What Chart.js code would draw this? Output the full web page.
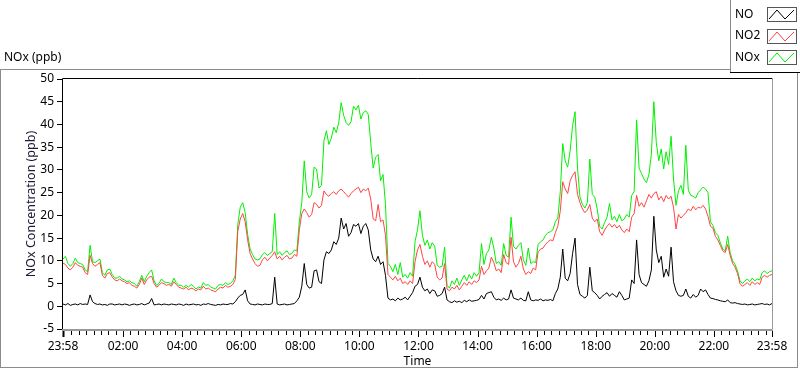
<!DOCTYPE html>
<html>
<head>
<meta charset="utf-8">
<script src="https://cdn.jsdelivr.net/npm/chart.js@4.4.1/dist/chart.umd.min.js"></script>
<style>
html, body { margin: 0; padding: 0; background: #fff; }
</style>
</head>
<body>
<canvas id="chart_line" width="800" height="369"></canvas>
<script>
// samples every 5 minutes starting at 23:58
var startMin = 0
var stepMin = 5

var no = [
	0.5, 0.3, 0.6, 0.2, 0.4, 0.5, 0.3, 0.6, 0.4, 0.5, 0.4, 2.5,
	1.0, 0.6, 0.4, 0.5, 0.3, 0.4, 0.2, 0.5, 0.5, 0.3, 0.4, 0.5,
	0.3, 0.5, 0.4, 0.2, 0.4, 0.5, 0.3, 0.4, 0.6, 0.3, 0.5, 0.7,
	1.7, 0.3, 0.4, 0.5, 0.3, 0.5, 0.4, 0.3, 0.5, 0.4, 0.3, 0.5,
	0.4, 0.2, 0.5, 0.3, 0.4, 0.5, 0.3, 0.4, 0.2, 0.5, 0.4, 0.6,
	0.4, 0.3, 0.2, 0.4, 0.3, 0.5, 0.4, 0.4, 0.6, 0.5, 1.0, 1.8,
	2.4, 2.6, 3.6, 1.2, 0.5, 0.4, 0.3, 0.5, 0.4, 0.3, 0.5, 0.4,
	0.4, 0.6, 6.4, 0.5, 0.3, 0.4, 0.5, 0.3, 0.4, 0.5, 0.6, 1.2,
	2.0, 4.4, 9.4, 4.8, 4.0, 4.2, 7.8, 8.0, 5.4, 5.0, 10.2, 12.0,
	11.6, 12.4, 14.2, 13.6, 15.0, 19.4, 17.0, 18.2, 15.4, 16.2, 18.0, 17.6,
	18.2, 16.0, 17.6, 18.2, 16.8, 12.4, 10.4, 9.8, 11.0, 9.2, 9.8, 6.8,
	1.8, 1.4, 1.6, 1.2, 1.8, 1.4, 1.6, 2.0, 1.4, 2.2, 3.0, 4.4,
	4.8, 6.4, 4.2, 3.4, 3.8, 2.8, 3.6, 3.4, 2.2, 2.4, 2.8, 4.2,
	1.4, 1.0, 0.8, 1.2, 0.9, 1.1, 0.8, 1.3, 1.0, 1.4, 1.1, 1.2,
	1.3, 1.5, 2.4, 1.6, 2.8, 3.0, 3.2, 2.0, 1.4, 1.6, 1.3, 1.8,
	1.4, 1.6, 3.6, 1.8, 1.6, 1.4, 1.8, 1.3, 1.2, 3.2, 1.4, 1.2,
	1.4, 1.3, 1.6, 1.2, 1.4, 1.3, 1.5, 1.2, 2.8, 3.8, 6.4, 12.6,
	6.2, 5.6, 7.2, 11.6, 15.0, 4.8, 2.6, 2.2, 1.8, 2.4, 8.6, 3.4,
	3.0, 2.4, 1.6, 2.2, 2.6, 3.0, 2.2, 2.8, 2.4, 2.0, 3.2, 2.4,
	1.4, 1.6, 1.8, 5.8, 5.0, 14.6, 7.0, 5.2, 4.8, 4.4, 5.6, 8.0,
	19.8, 12.4, 9.6, 11.0, 6.4, 8.2, 6.6, 13.0, 5.4, 3.4, 2.4, 2.2,
	2.4, 3.8, 2.2, 1.8, 2.6, 2.0, 2.4, 3.8, 3.2, 3.6, 2.6, 1.8,
	1.7, 1.5, 1.4, 1.2, 1.1, 1.0, 1.4, 0.8, 0.7, 0.8, 0.6, 0.5,
	0.4, 0.5, 0.3, 0.4, 0.5, 0.3, 0.4, 0.5, 0.6, 0.4, 0.5, 0.3, 0.6
]

var no2 = [
	9.5, 9.2, 8.4, 8.0, 8.6, 9.6, 9.0, 8.8, 8.6, 7.4, 7.0, 11.2,
	9.4, 8.8, 9.2, 9.6, 6.8, 6.2, 7.2, 7.4, 6.4, 5.8, 5.6, 6.0,
	5.6, 5.4, 5.0, 5.2, 4.6, 4.4, 4.0, 4.8, 6.2, 4.8, 5.8, 6.4,
	6.6, 5.0, 4.2, 4.6, 5.2, 5.0, 4.6, 4.8, 4.4, 5.4, 4.8, 4.2,
	4.0, 3.8, 4.2, 3.6, 4.0, 3.8, 3.4, 3.8, 3.6, 4.4, 3.8, 4.0,
	3.6, 3.4, 3.2, 3.8, 4.2, 4.0, 4.6, 4.2, 4.4, 4.8, 5.9, 16.5,
	19.2, 20.4, 18.6, 14.6, 11.6, 10.4, 9.4, 8.8, 9.0, 10.2, 10.8, 10.0,
	10.6, 11.2, 12.0, 10.4, 11.0, 10.2, 10.8, 11.2, 10.4, 10.6, 11.4, 11.0,
	16.8, 20.4, 21.4, 20.6, 19.6, 20.2, 22.8, 22.4, 21.6, 22.2, 25.4, 24.6,
	24.2, 24.8, 25.2, 24.6, 25.4, 25.8, 25.2, 24.6, 24.0, 24.8, 25.4, 25.8,
	26.2, 25.0, 25.8, 25.4, 26.0, 23.6, 19.2, 18.8, 22.4, 18.6, 19.0, 15.6,
	7.0, 6.4, 5.8, 6.6, 5.6, 6.2, 5.0, 5.4, 4.8, 5.6, 5.0, 9.8,
	12.4, 13.6, 11.0, 9.2, 10.0, 8.6, 9.8, 9.2, 6.4, 5.8, 6.2, 9.4,
	3.8, 3.4, 4.2, 3.8, 4.6, 3.6, 4.4, 5.2, 4.6, 5.4, 4.8, 5.6,
	5.2, 5.8, 8.8, 7.0, 7.8, 8.4, 10.8, 9.6, 7.8, 8.2, 7.4, 11.4,
	9.6, 9.2, 15.2, 9.8, 8.6, 9.4, 11.0, 8.2, 7.0, 7.6, 7.2, 8.4,
	8.0, 12.0, 12.6, 12.8, 13.6, 14.2, 14.6, 14.4, 16.2, 17.6, 21.0, 27.4,
	25.8, 24.8, 27.6, 28.8, 29.6, 24.6, 22.8, 21.4, 20.6, 21.2, 22.4, 19.4,
	18.6, 19.2, 16.4, 15.6, 16.8, 17.6, 18.2, 17.4, 18.0, 17.2, 17.8, 16.8,
	16.2, 17.0, 16.4, 19.6, 20.4, 24.4, 22.0, 22.8, 21.8, 23.2, 24.6, 23.8,
	24.8, 25.2, 23.4, 24.2, 23.0, 24.4, 23.6, 24.2, 21.8, 17.0, 20.2, 19.4,
	20.0, 20.6, 21.4, 21.0, 22.0, 21.2, 21.8, 21.6, 22.2, 21.4, 19.8, 17.6,
	17.2, 15.4, 14.6, 13.4, 12.2, 11.8, 13.6, 11.2, 9.4, 8.6, 7.2, 5.0,
	4.4, 4.8, 5.2, 4.6, 5.4, 4.8, 5.2, 4.8, 6.4, 6.8, 6.4, 6.8, 7.0
]

var nox = [
	10.4, 11.0, 9.4, 8.8, 9.4, 10.6, 9.6, 9.4, 9.2, 8.0, 7.6, 13.4,
	9.8, 9.6, 10.0, 10.4, 7.4, 6.8, 8.0, 8.2, 7.0, 6.2, 6.2, 6.6,
	6.0, 5.8, 5.4, 5.6, 5.2, 5.0, 4.4, 5.4, 6.8, 5.4, 6.6, 7.4,
	8.0, 5.6, 4.6, 5.0, 6.0, 5.4, 5.2, 5.2, 4.8, 6.2, 5.2, 4.6,
	4.6, 4.2, 4.6, 4.2, 4.8, 4.4, 3.8, 4.2, 4.0, 5.2, 4.6, 4.8,
	4.2, 4.0, 3.8, 4.6, 4.8, 4.6, 5.2, 4.8, 5.0, 5.6, 6.8, 18.0,
	21.8, 22.8, 20.6, 15.8, 12.6, 11.4, 10.4, 10.2, 10.4, 11.4, 11.8, 11.2,
	11.6, 12.0, 20.4, 11.4, 12.0, 11.2, 11.8, 12.2, 11.4, 11.6, 12.4, 12.2,
	18.6, 22.8, 32.0, 25.2, 23.8, 24.6, 30.6, 30.2, 26.0, 26.6, 36.4, 38.6,
	35.6, 37.0, 39.4, 38.2, 40.4, 44.8, 42.0, 40.4, 39.8, 40.6, 44.0, 43.2,
	44.2, 41.2, 42.6, 43.0, 42.2, 36.0, 30.4, 32.8, 33.4, 27.6, 29.0, 22.4,
	9.4, 8.8, 7.6, 9.2, 7.0, 9.6, 6.4, 7.0, 6.2, 7.4, 6.6, 14.2,
	16.8, 21.0, 15.6, 13.4, 14.6, 12.6, 14.0, 13.2, 9.0, 8.6, 8.8, 13.0,
	4.6, 4.0, 5.6, 4.8, 6.2, 4.6, 5.8, 6.8, 5.6, 7.0, 6.0, 7.4,
	6.6, 7.4, 13.8, 9.2, 11.6, 12.4, 15.2, 12.8, 9.4, 9.8, 9.0, 13.8,
	11.2, 10.8, 19.6, 13.2, 12.6, 13.4, 14.0, 10.2, 9.0, 12.8, 9.4, 9.8,
	9.6, 13.6, 14.2, 14.6, 15.6, 16.2, 16.4, 16.8, 18.6, 19.4, 25.2, 35.8,
	32.0, 30.6, 34.2, 39.8, 42.8, 30.4, 24.0, 22.4, 21.6, 22.8, 32.4, 24.6,
	24.0, 21.4, 17.6, 17.0, 18.4, 19.6, 22.6, 19.0, 19.8, 18.6, 20.2, 18.8,
	19.2, 20.2, 19.6, 24.4, 25.2, 41.0, 30.4, 29.2, 28.0, 27.2, 29.0, 33.4,
	45.0, 36.0, 32.0, 34.6, 30.2, 34.0, 31.2, 37.4, 28.0, 22.2, 25.4, 26.6,
	24.6, 35.4, 25.6, 24.4, 24.2, 23.8, 25.0, 25.6, 26.2, 25.8, 25.0, 18.6,
	17.8, 16.2, 15.6, 14.0, 12.6, 12.2, 15.4, 11.8, 10.0, 9.2, 7.8, 5.6,
	5.0, 5.6, 6.0, 5.4, 6.2, 5.6, 6.0, 5.8, 7.4, 7.8, 7.2, 7.6, 7.8
]

// x axis: minutes after 23:58
var tickMinutes = [0, 122, 242, 362, 482, 602, 722, 842, 962, 1082, 1202, 1322, 1440]
var tickLabels = ['23:58', '02:00', '04:00', '06:00', '08:00', '10:00', '12:00', '14:00', '16:00', '18:00', '20:00', '22:00', '23:58']
var seriesNames = ['NO', 'NO2', 'NOx']
var seriesColors = ['#000000', '#ff4444', '#00f000']

var FONT = '"Noto Sans", "Liberation Sans", sans-serif'

function pts(arr){
	return arr.map(function(v, i){ return {x: startMin + i * stepMin, y: v} })
}

var panel = {
	id: 'panel',
	afterDraw: function(chart){
		var ctx = chart.ctx
		var a = chart.chartArea
		var sx = chart.scales.x
		ctx.save()

		// outer panel
		ctx.strokeStyle = '#8c8c8c'
		ctx.lineWidth = 1
		ctx.strokeRect(0.5, 69.5, 797, 298)

		// plot frame
		ctx.strokeStyle = '#000'
		ctx.beginPath()
		ctx.moveTo(a.left - 0.5, a.bottom)
		ctx.lineTo(a.left - 0.5, a.top - 0.5)
		ctx.lineTo(a.right, a.top - 0.5)
		ctx.stroke()
		ctx.strokeStyle = '#9a9a9a'
		ctx.beginPath()
		ctx.moveTo(a.right + 0.5, a.top - 1)
		ctx.lineTo(a.right + 0.5, a.bottom + 0.5)
		ctx.lineTo(a.left - 1, a.bottom + 0.5)
		ctx.stroke()
		ctx.beginPath()
		ctx.moveTo(a.left - 1, a.bottom + 1.5)
		ctx.lineTo(a.right + 1, a.bottom + 1.5)
		ctx.stroke()

		// x ticks, minor every 15 min
		ctx.strokeStyle = '#000'
		for (var m = 17; m < 1440; m += 15) {
			var px = Math.round(sx.getPixelForValue(m)) + 0.5
			ctx.beginPath()
			ctx.moveTo(px, a.bottom + 2)
			ctx.lineTo(px, a.bottom + 6)
			ctx.stroke()
		}
		tickMinutes.forEach(function(m, i){
			var px = Math.round(sx.getPixelForValue(m)) + 0.5
			ctx.lineWidth = (i == 0) ? 2 : 1
			ctx.beginPath()
			ctx.moveTo(px, a.bottom + 2)
			ctx.lineTo(px, a.bottom + 8)
			ctx.stroke()
		})
		ctx.lineWidth = 1

		// title
		ctx.fillStyle = '#000'
		ctx.font = '12px ' + FONT
		ctx.textBaseline = 'middle'
		ctx.textAlign = 'left'
		ctx.fillText('NOx (ppb)', 4, 58)

		// legend
		ctx.fillStyle = '#fff'
		ctx.fillRect(731, 0, 69, 72)
		ctx.strokeStyle = '#8c8c8c'
		ctx.beginPath()
		ctx.moveTo(730.5, 0)
		ctx.lineTo(730.5, 72.5)
		ctx.stroke()
		ctx.strokeStyle = '#000'
		ctx.beginPath()
		ctx.moveTo(730, 72.5)
		ctx.lineTo(800, 72.5)
		ctx.stroke()
		seriesNames.forEach(function(name, i){
			var by = 7 + i * 21.5
			var bx = 767
			ctx.fillStyle = '#000'
			ctx.fillText(name, 735, by + 7.5)
			ctx.strokeStyle = '#555'
			ctx.strokeRect(bx + 0.5, Math.round(by) + 0.5, 29, 14)
			ctx.strokeStyle = seriesColors[i]
			ctx.beginPath()
			var y0 = Math.round(by)
			ctx.moveTo(bx + 2, y0 + 12)
			ctx.lineTo(bx + 10, y0 + 3)
			ctx.lineTo(bx + 18, y0 + 12)
			ctx.lineTo(bx + 27, y0 + 3)
			ctx.stroke()
		})
		ctx.restore()
	}
}

var ctx = document.getElementById('chart_line')
var myChart = new Chart(ctx, {
	type: 'line',
	data: {
		datasets: [
			{label: seriesNames[0], data: pts(no), borderColor: seriesColors[0]},
			{label: seriesNames[1], data: pts(no2), borderColor: seriesColors[1]},
			{label: seriesNames[2], data: pts(nox), borderColor: seriesColors[2]}
		]
	},
	options: {
		responsive: false,
		animation: false,
		devicePixelRatio: 1,
		layout: {padding: {top: 79, right: 28, left: 0, bottom: 0}},
		elements: {
			line: {borderWidth: 1, tension: 0, fill: false},
			point: {radius: 0}
		},
		plugins: {
			legend: {display: false},
			tooltip: {enabled: false}
		},
		scales: {
			x: {
				type: 'linear',
				min: 0,
				max: 1440,
				afterFit: function(s){ s.height = 40 },
				afterBuildTicks: function(s){
					s.ticks = tickMinutes.map(function(v){ return {value: v} })
				},
				grid: {display: false, drawTicks: false},
				border: {display: false},
				ticks: {
					autoSkip: false,
					maxRotation: 0,
					padding: 10,
					color: '#000',
					font: {family: FONT, size: 12},
					callback: function(v){
						var i = tickMinutes.indexOf(v)
						return i >= 0 ? tickLabels[i] : ''
					}
				},
				title: {
					display: true,
					text: 'Time',
					color: '#000',
					font: {family: FONT, size: 12},
					padding: {top: 0, bottom: 0}
				}
			},
			y: {
				min: -5,
				max: 50,
				afterFit: function(s){ s.width = 63 },
				grid: {drawOnChartArea: false, tickLength: 6, tickColor: '#000', tickWidth: 1},
				border: {display: false},
				ticks: {
					stepSize: 5,
					padding: 3,
					color: '#000',
					font: {family: FONT, size: 12}
				},
				title: {
					display: true,
					text: 'NOx Concentration (ppb)',
					color: '#1a1a33',
					font: {family: FONT, size: 12.5, lineHeight: 1},
					padding: {top: 25, bottom: 0}
				}
			}
		}
	},
	plugins: [panel]
});
</script>
</body>
</html>
